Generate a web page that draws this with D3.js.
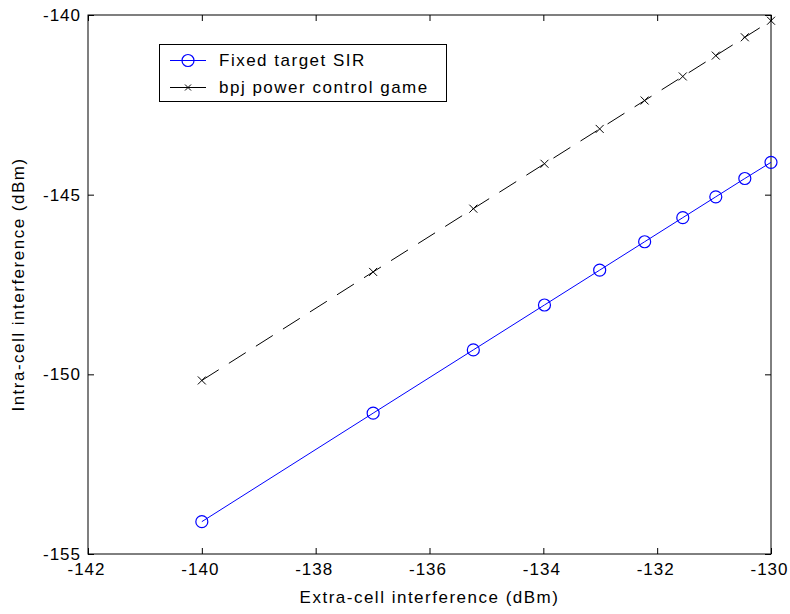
<!DOCTYPE html>
<html>
<head>
<meta charset="utf-8">
<script src="https://cdn.jsdelivr.net/npm/d3@7"></script>
<style>
  html, body { margin: 0; padding: 0; background: #fff; }
  svg { display: block; }
  text { font-family: "Liberation Sans", Arial, sans-serif; fill: #000; letter-spacing: 1.5px; }
  .tick text { letter-spacing: 1px; }
</style>
</head>
<body>
<svg id="chart" width="790" height="614"></svg>
<script>
// Extra-cell interference levels (dBm)
const extraCell = [-140, -136.99, -135.23, -133.98, -133.01, -132.22, -131.55, -130.97, -130.46, -130];
// Intra-cell interference (dBm) for each scheme
const fixedSIR = [-154.1, -151.08, -149.32, -148.07, -147.1, -146.31, -145.64, -145.06, -144.55, -144.1];
const bpjGame  = [-150.17, -147.15, -145.39, -144.14, -143.17, -142.38, -141.71, -141.13, -140.62, -140.16];

const xTicks = [-142, -140, -138, -136, -134, -132, -130];
const yTicks = [-155, -150, -145, -140];
const seriesNames = ["Fixed target SIR", "bpj power control game"];

const svg = d3.select("#chart");
const plotL = 88, plotR = 771, plotT = 15, plotB = 554;

const x = d3.scaleLinear().domain([-142, -130]).range([plotL, plotR]);
const y = d3.scaleLinear().domain([-155, -140]).range([plotB, plotT]);

const fontSize = 17;
const fontFamily = "Liberation Sans, Arial, sans-serif";
const plainNum = d => String(d);   // ASCII hyphen for negatives

// Plot frame
svg.append("rect")
  .attr("x", plotL).attr("y", plotT)
  .attr("width", plotR - plotL).attr("height", plotB - plotT)
  .attr("fill", "none").attr("stroke", "#000").attr("stroke-width", 1);

// Axes with inward ticks on all four sides
const tickLen = 6;
svg.append("g").attr("transform", `translate(0,${plotB})`)
  .call(d3.axisBottom(x).tickValues(xTicks).tickFormat(plainNum).tickSize(-tickLen).tickPadding(9))
  .call(g => g.select(".domain").remove())
  .call(g => g.selectAll("text").attr("font-size", fontSize).attr("font-family", fontFamily)
    .attr("dy", "0.71em").attr("dx", -2));
svg.append("g").attr("transform", `translate(0,${plotT})`)
  .call(d3.axisTop(x).tickValues(xTicks).tickFormat("").tickSize(-tickLen))
  .call(g => g.select(".domain").remove());
svg.append("g").attr("transform", `translate(${plotL},0)`)
  .call(d3.axisLeft(y).tickValues(yTicks).tickFormat(plainNum).tickSize(-tickLen).tickPadding(7))
  .call(g => g.select(".domain").remove())
  .call(g => g.selectAll("text").attr("font-size", fontSize).attr("font-family", fontFamily));
svg.append("g").attr("transform", `translate(${plotR},0)`)
  .call(d3.axisRight(y).tickValues(yTicks).tickFormat("").tickSize(-tickLen))
  .call(g => g.select(".domain").remove());

// Axis titles
svg.append("text")
  .attr("x", (plotL + plotR) / 2).attr("y", 603)
  .attr("text-anchor", "middle").attr("font-size", fontSize)
  .text("Extra-cell interference (dBm)");
svg.append("text")
  .attr("transform", `translate(24,${(plotT + plotB) / 2}) rotate(-90)`)
  .attr("text-anchor", "middle").attr("font-size", fontSize)
  .text("Intra-cell interference (dBm)");

const line = d3.line().x(d => x(d[0])).y(d => y(d[1]));
const bluePts = extraCell.map((v, i) => [v, fixedSIR[i]]);
const blackPts = extraCell.map((v, i) => [v, bpjGame[i]]);

// Fixed target SIR: solid blue with circle markers
svg.append("path").datum(bluePts)
  .attr("d", line).attr("fill", "none").attr("stroke", "#0000ff").attr("stroke-width", 1);
svg.append("g").selectAll("circle").data(bluePts).join("circle")
  .attr("cx", d => x(d[0])).attr("cy", d => y(d[1])).attr("r", 6)
  .attr("fill", "none").attr("stroke", "#0000ff").attr("stroke-width", 1.2);

// bpj power control game: dashed black with x markers
svg.append("path").datum(blackPts)
  .attr("d", line).attr("fill", "none").attr("stroke", "#000").attr("stroke-width", 1)
  .attr("stroke-dasharray", "20,12");
const cross = (g, cx, cy, s) => g.append("path")
  .attr("d", `M${cx - s},${cy - s}L${cx + s},${cy + s}M${cx - s},${cy + s}L${cx + s},${cy - s}`)
  .attr("stroke", "#000").attr("stroke-width", 1).attr("fill", "none");
const markers = svg.append("g");
blackPts.forEach(d => cross(markers, x(d[0]), y(d[1]), 4));

// Legend
const lg = svg.append("g");
lg.append("rect").attr("x", 159.5).attr("y", 44.5).attr("width", 287).attr("height", 57)
  .attr("fill", "#fff").attr("stroke", "#000").attr("stroke-width", 1);
const rowY = [60.5, 87.5];
lg.append("line").attr("x1", 170).attr("x2", 206).attr("y1", rowY[0]).attr("y2", rowY[0])
  .attr("stroke", "#0000ff").attr("stroke-width", 1);
lg.append("circle").attr("cx", 188).attr("cy", rowY[0]).attr("r", 6)
  .attr("fill", "none").attr("stroke", "#0000ff").attr("stroke-width", 1.2);
lg.append("line").attr("x1", 170).attr("x2", 206).attr("y1", rowY[1]).attr("y2", rowY[1])
  .attr("stroke", "#000").attr("stroke-width", 1);
cross(lg, 188, rowY[1], 3);
seriesNames.forEach((name, i) => {
  lg.append("text").attr("x", 219).attr("y", rowY[i]).attr("dy", "0.35em")
    .attr("font-size", fontSize).text(name);
});
</script>
</body>
</html>
